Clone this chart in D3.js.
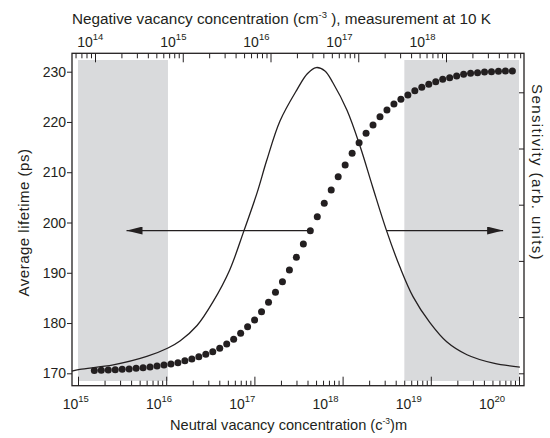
<!DOCTYPE html>
<html>
<head>
<meta charset="utf-8">
<script src="https://cdn.jsdelivr.net/npm/d3@7/dist/d3.min.js"></script>
<style>
  body { margin: 0; background: #fff; }
  svg { display: block; }
  text { font-family: "Liberation Sans", Arial, Helvetica, sans-serif; fill: #231f20; }
</style>
</head>
<body>
<svg id="chart" width="550" height="438"></svg>
<script>
// ---- data -------------------------------------------------------------
// log10 of the neutral vacancy concentration (cm^-3) for each lifetime point
const neutralLog = [
  15.185, 15.264, 15.343, 15.422, 15.501, 15.580, 15.659, 15.738, 15.817, 15.896,
  15.975, 16.054, 16.133, 16.212, 16.291, 16.370, 16.449, 16.528, 16.607, 16.686,
  16.765, 16.844, 16.923, 17.002, 17.081, 17.160, 17.239, 17.318, 17.397, 17.476,
  17.555, 17.634, 17.713, 17.792, 17.871, 17.950, 18.029, 18.108, 18.187, 18.266,
  18.345, 18.424, 18.503, 18.582, 18.661, 18.740, 18.819, 18.898, 18.977, 19.056,
  19.135, 19.214, 19.293, 19.372, 19.451, 19.530, 19.609, 19.688, 19.767, 19.846,
  19.925
];
// average positron lifetime (ps)
const lifetime = [
  170.56, 170.60, 170.66, 170.72, 170.80, 170.86, 171.00, 171.12, 171.26, 171.46,
  171.66, 171.86, 172.11, 172.51, 172.85, 173.31, 173.78, 174.30, 174.98, 175.83,
  176.77, 177.96, 179.27, 180.61, 182.26, 184.13, 186.12, 188.22, 190.55, 193.08,
  195.72, 198.37, 201.16, 203.82, 206.47, 209.11, 211.44, 213.77, 215.88, 217.75,
  219.40, 221.05, 222.38, 223.57, 224.51, 225.36, 226.22, 226.90, 227.49, 228.01,
  228.49, 228.81, 229.14, 229.48, 229.68, 229.80, 229.94, 230.00, 230.08, 230.14,
  230.14
];
// sensitivity curve (arb. units) against log10 neutral concentration
const sensLog = [
  14.93, 15.02, 15.40, 15.78, 16.02, 16.16, 16.35, 16.53, 16.72, 16.88,
  17.03, 17.14, 17.29, 17.48, 17.60, 17.70, 17.80, 17.89, 18.05, 18.20,
  18.34, 18.50, 18.65, 18.80, 18.99, 19.18, 19.41, 19.71, 20.01
];
const sensitivity = [
  0.04, 0.07, 0.15, 0.30, 0.45, 0.58, 0.85, 1.27, 1.84, 2.53,
  3.21, 3.79, 4.49, 5.04, 5.33, 5.44, 5.38, 5.17, 4.68, 4.03,
  3.32, 2.53, 1.89, 1.36, 0.90, 0.56, 0.33, 0.18, 0.11
];
// shaded regions, log10 neutral concentration
const shadedFrom = [15.0, 18.7];
const shadedTo = [16.02, 20.0];
// axis ticks
const bottomDecades = [15, 16, 17, 18, 19, 20];
const topDecades = [14, 15, 16, 17, 18];
const lifetimeTicks = [170, 180, 190, 200, 210, 220, 230];
const sensTicks = [0, 1, 2, 3, 4, 5];
// arrows pointing each curve to its axis: start / end (log10 neutral), lifetime level
const arrowFrom = [17.60, 18.50];
const arrowTo = [15.55, 19.82];
const arrowAt = [198.4, 198.4];

// ---- layout -----------------------------------------------------------
const frame = { left: 72, right: 524, top: 53.3, bottom: 385.7 };
const ink = "#231f20";
const shade = "#d9dadc";

const svg = d3.select("#chart");

const x = d3.scaleLog().domain([1e15, 1e20]).range([78, 519]);
const xLab = d3.scaleLog().domain([1e15, 1e20]).range([75.8, 492]);
const xTop = d3.scaleLog().domain([1e14, 1e18]).range([95, 446]);
const xTopLab = d3.scaleLog().domain([1e14, 1e18]).range([90.3, 422.5]);
const y = d3.scaleLinear().domain([170, 230]).range([373.3, 71.7]);
const yR = d3.scaleLinear().domain([0, 5]).range([373.3, 92.3]);

const p10 = v => Math.pow(10, v);

function logTicks(lo, hi) {
  const out = [];
  for (let d = Math.floor(Math.log10(lo)) - 1; d <= Math.ceil(Math.log10(hi)); d++) {
    for (let k = 1; k <= 9; k++) {
      const v = k * Math.pow(10, d);
      if (v >= lo * 0.9999 && v <= hi * 1.0001) out.push({ v, major: k === 1 });
    }
  }
  return out;
}

// shaded bands
svg.append("g").selectAll("rect")
  .data(shadedFrom.map((f, i) => [f, shadedTo[i]]))
  .join("rect")
  .attr("x", d => x(p10(d[0])))
  .attr("width", d => x(p10(d[1])) - x(p10(d[0])))
  .attr("y", y(232.33))
  .attr("height", y(168.47) - y(232.33))
  .attr("fill", shade);

// axes ticks
const bottomTicks = logTicks(1e15, 1e20);
svg.append("g").attr("transform", `translate(0,${frame.bottom})`)
  .call(d3.axisTop(x).tickValues(bottomTicks.filter(t => !t.major).map(t => t.v)).tickSize(5).tickFormat(""))
  .call(g => g.select(".domain").remove());
svg.append("g").attr("transform", `translate(0,${frame.bottom})`)
  .call(d3.axisTop(x).tickValues(bottomTicks.filter(t => t.major).map(t => t.v)).tickSize(9).tickFormat(""))
  .call(g => g.select(".domain").remove());

const topTicks = logTicks(xTop.invert(frame.left + 1), xTop.invert(frame.right - 1));
svg.append("g").attr("transform", `translate(0,${frame.top})`)
  .call(d3.axisBottom(xTop).tickValues(topTicks.filter(t => !t.major).map(t => t.v)).tickSize(5).tickFormat(""))
  .call(g => g.select(".domain").remove());
svg.append("g").attr("transform", `translate(0,${frame.top})`)
  .call(d3.axisBottom(xTop).tickValues(topTicks.filter(t => t.major).map(t => t.v)).tickSize(9).tickFormat(""))
  .call(g => g.select(".domain").remove());

svg.append("g").attr("transform", `translate(${frame.left},0)`)
  .call(d3.axisLeft(y).tickValues(lifetimeTicks).tickSize(5).tickFormat(""))
  .call(g => g.select(".domain").remove());

svg.append("g").attr("transform", `translate(${frame.right},0)`)
  .call(d3.axisLeft(yR).tickValues(sensTicks).tickSize(5).tickFormat(""))
  .call(g => g.select(".domain").remove());

svg.selectAll(".tick line").attr("stroke", ink).attr("stroke-width", 1);

// frame
svg.append("rect")
  .attr("x", frame.left).attr("y", frame.top)
  .attr("width", frame.right - frame.left).attr("height", frame.bottom - frame.top)
  .attr("fill", "none").attr("stroke", ink).attr("stroke-width", 1.3);

// tick labels
svg.append("g").selectAll("text")
  .data(lifetimeTicks).join("text")
  .attr("x", 66).attr("y", d => y(d)).attr("dy", "0.36em")
  .attr("text-anchor", "end").attr("font-size", 14)
  .text(d => d);

function powLabels(sel, decades, scale, baseY) {
  const t = sel.selectAll("text").data(decades).join("text")
    .attr("x", d => scale(p10(d))).attr("y", baseY)
    .attr("text-anchor", "middle").attr("font-size", 14);
  t.append("tspan").text("10");
  t.append("tspan").attr("font-size", 9.5).attr("dy", -7).text(d => d);
}
powLabels(svg.append("g"), bottomDecades, xLab, 409.3);
powLabels(svg.append("g"), topDecades, xTopLab, 46.5);

// sensitivity curve
const sensLine = d3.line()
  .x(d => x(p10(d[0])))
  .y(d => yR(d[1]))
  .curve(d3.curveCatmullRom.alpha(0.5));
svg.append("path")
  .datum(sensLog.map((v, i) => [v, sensitivity[i]]))
  .attr("d", sensLine)
  .attr("fill", "none").attr("stroke", ink).attr("stroke-width", 1.3);

// arrows
svg.append("defs").append("marker")
  .attr("id", "head").attr("viewBox", "0 0 16 8")
  .attr("refX", 16).attr("refY", 4)
  .attr("markerWidth", 16).attr("markerHeight", 8)
  .attr("markerUnits", "userSpaceOnUse")
  .attr("orient", "auto")
  .append("path").attr("d", "M0,0 L16,4 L0,8 Z").attr("fill", ink);

svg.append("g").selectAll("line")
  .data(arrowFrom.map((f, i) => ({ f, t: arrowTo[i], v: arrowAt[i] })))
  .join("line")
  .attr("x1", d => x(p10(d.f))).attr("x2", d => x(p10(d.t)))
  .attr("y1", d => y(d.v)).attr("y2", d => y(d.v))
  .attr("stroke", ink).attr("stroke-width", 1.3)
  .attr("marker-end", "url(#head)");

// lifetime points
svg.append("g").selectAll("circle")
  .data(neutralLog.map((v, i) => [v, lifetime[i]]))
  .join("circle")
  .attr("cx", d => x(p10(d[0])))
  .attr("cy", d => y(d[1]))
  .attr("r", 3.5)
  .attr("fill", ink);

// axis titles
const topTitle = svg.append("text")
  .attr("x", 281.5).attr("y", 24).attr("text-anchor", "middle").attr("font-size", 15.3);
topTitle.append("tspan").text("Negative vacancy concentration (cm");
topTitle.append("tspan").attr("font-size", 9.5).attr("dy", -6).text("-3");
topTitle.append("tspan").attr("dy", 6).text(" ), measurement at 10 K");

// the unit in this title is set tightly: superscript squeezed in after the "c"
const bottomTitle = svg.append("text")
  .attr("x", 170).attr("y", 430).attr("font-size", 14.6);
bottomTitle.append("tspan").text("Neutral vacancy concentration (c");
bottomTitle.append("tspan").attr("font-size", 8.5).attr("dy", -6).text("-3");
bottomTitle.append("tspan").attr("dy", 6).text(")m");

svg.append("text")
  .attr("transform", "translate(28.5,222.5) rotate(-90)")
  .attr("text-anchor", "middle").attr("font-size", 15)
  .attr("letter-spacing", 0.5)
  .text("Average lifetime (ps)");

svg.append("text")
  .attr("transform", "translate(532,172.5) rotate(90)")
  .attr("text-anchor", "middle").attr("font-size", 15)
  .attr("letter-spacing", 1.4)
  .text("Sensitivity (arb. units)");
</script>
</body>
</html>
